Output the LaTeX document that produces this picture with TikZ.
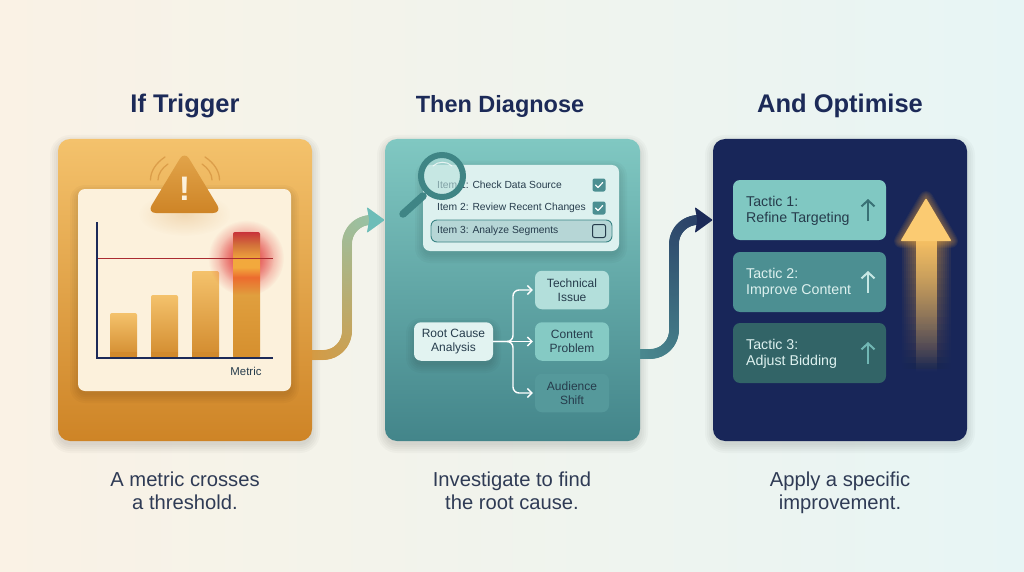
\documentclass[tikz,border=0pt]{standalone}
\usepackage{fontspec}
\setmainfont{Liberation Sans}
\usetikzlibrary{arrows.meta,fadings,decorations.markings,calc}
\definecolor{bgL}{HTML}{FAF2E5}\definecolor{bgR}{HTML}{E7F5F5}
\definecolor{navy}{HTML}{1C2A58}\definecolor{desc}{HTML}{2F3B55}
\definecolor{amberT}{HTML}{F4C26C}\definecolor{amberB}{HTML}{CE8426}
\definecolor{tealT}{HTML}{80C8C2}\definecolor{tealB}{HTML}{43858A}
\definecolor{panelA}{HTML}{FCF1DC}\definecolor{panelT}{HTML}{DDF1EF}
\definecolor{ink}{HTML}{263C4C}\definecolor{cardN}{HTML}{182659}
\definecolor{ringT}{HTML}{3F8585}
\definecolor{hotR}{HTML}{C8323A}\definecolor{hotM}{HTML}{D2703A}\definecolor{hotY}{HTML}{F2A93D}\definecolor{hotO}{HTML}{EC6B2E}\definecolor{hotA}{HTML}{E09F3E}\definecolor{hotB}{HTML}{D58F2E}
\definecolor{glow}{HTML}{F0A83C}\definecolor{glowL}{HTML}{FBCB72}
\pgfdeclareverticalshading{hotbar}{100bp}{color(0bp)=(hotB);color(25bp)=(hotB);color(50bp)=(hotA);color(57bp)=(hotO);color(61bp)=(hotY);color(64bp)=(hotY);color(70bp)=(hotM);color(75bp)=(hotR);color(100bp)=(hotR)}
\tikzfading[name=glowfade,inner color=transparent!0,outer color=transparent!100]
\tikzfading[name=upfade,top color=transparent!0,middle color=transparent!20,bottom color=transparent!100]
\newcommand\softshadow[5]{\foreach \s in {0,2,4,6,8}{\pgfmathsetmacro\rr{#5+\s}\fill[black,opacity=.022,rounded corners=\rr pt] (#1-\s,#2-\s+4) rectangle (#3+\s,#4+\s+4);}}
\tikzset{
 x=1pt,y=-1pt,
 card/.style={inner sep=0pt,rounded corners=12pt,minimum width=254pt,minimum height=302pt},
 panel/.style={inner sep=0pt,rounded corners=7pt},
 title/.style={font=\bfseries\fontsize{#1}{27}\selectfont,text=navy},
 caption/.style={font=\fontsize{20.2}{23}\selectfont,text=desc,align=center,anchor=north},
 item/.style={font=\fontsize{10.3}{13}\selectfont,text=ink,anchor=west,inner sep=0pt},
 cbox/.style={inner sep=0pt,minimum size=13pt,rounded corners=2pt},
 cause/.style={inner sep=0pt,rounded corners=7pt,minimum width=74pt,minimum height=38.5pt,font=\fontsize{12}{14}\selectfont,text=ink,align=center},
 tactic/.style={inner sep=0pt,rounded corners=7pt,minimum width=153pt,minimum height=60pt},
 tactictext/.style={font=\fontsize{14.2}{16}\selectfont,anchor=west,align=left,inner sep=0pt},
 branch/.style={draw=white,line width=1.4pt,rounded corners=6pt,-{Straight Barb[length=4.5pt,width=9pt]}},
 tup/.style={line width=2pt,-{Straight Barb[length=6pt,width=13pt]}},
 flow/.style n args={2}{decorate,decoration={markings,mark=between positions 0 and 1 step 1pt with {\pgfmathtruncatemacro\p{min(100,\pgfkeysvalueof{/pgf/decoration/mark info/sequence number}/1.85)}\fill[color=#2!\p!#1] (0,0) circle (5pt);}}}
}
\begin{document}
\begin{tikzpicture}
\useasboundingbox (0,0) rectangle (1024,572);
\shade[left color=bgL,right color=bgR] (0,0) rectangle (1024,572);
% titles
\node[title=25.5] (t1) at (185,106) {If Trigger};
\node[title=23.5] (t2) at (500,106) {Then Diagnose};
\node[title=25.5] (t3) at (840,106) {And Optimise};
\node[caption] (c1) at (185,468) {A metric crosses\\a threshold.};
\node[caption] (c2) at (512,468) {Investigate to find\\the root cause.};
\node[caption] (c3) at (840,468) {Apply a specific\\improvement.};
% shadows of the cards
\softshadow{58}{139}{312}{441}{12}
\softshadow{385}{139}{640}{441}{12}
\softshadow{713}{139}{967}{441}{12}
% connectors (beneath the cards)
\coordinate (a1s) at (300,355);\coordinate (a1e) at (371,220);
\coordinate (a2s) at (628,354);\coordinate (a2e) at (698,220);
\path[rounded corners=24pt,flow={amberB!70!amberT}{tealT!90!teal}] (a1s) -- (347,355) -- (347,220) -- (a1e);
\path[rounded corners=24pt,flow={tealB!85!tealT}{navy}] (a2s) -- (674,354) -- (674,220) -- (a2e);
% cards
\node[card,top color=amberT,bottom color=amberB] (card1) at (185,290) {};
\node[card,minimum width=255pt,top color=tealT,bottom color=tealB] (card2) at (512.5,290) {};
\node[card,fill=cardN] (card3) at (840,290) {};
% arrow heads of the connectors
\coordinate (h1) at (card2.west|-a1e);\coordinate (h2) at (card3.west|-a2e);
\fill[tealT!85!teal,rounded corners=1pt] (h1) -- ($(h1)+(-18,-13)$) -- ($(h1)+(-15.5,0)$) -- ($(h1)+(-18,13)$) -- cycle;
\fill[navy,rounded corners=1pt] (h2) -- ($(h2)+(-18,-13)$) -- ($(h2)+(-15.5,0)$) -- ($(h2)+(-18,13)$) -- cycle;
% ===== card 1
\softshadow{78}{189}{291}{391}{7}
\node[panel,fill=panelA,minimum width=213pt,minimum height=202pt] (chart) at (184.5,290) {};
\fill[amberB,opacity=.22,path fading=glowfade] (184.5,214) ellipse (46 and 22);
\draw[amberB!85!panelA,opacity=.75,line width=1.3pt,line cap=round] (150.5,180) .. controls (150.5,171) and (156,163) .. (165,157);
\draw[amberB!85!panelA,opacity=.75,line width=1.3pt,line cap=round] (158,180) .. controls (158,174) and (162,168) .. (168,164);
\draw[amberB!85!panelA,opacity=.75,line width=1.3pt,line cap=round] (219.5,180) .. controls (219.5,171) and (214,163) .. (205,157);
\draw[amberB!85!panelA,opacity=.75,line width=1.3pt,line cap=round] (212,180) .. controls (212,174) and (208,168) .. (202,164);
\shade[top color=amberT!55!amberB,bottom color=amberB,rounded corners=9pt] (184.5,151) -- (222,213) -- (147,213) -- cycle;
\node[font=\bfseries\fontsize{34}{34}\selectfont,text=panelA,inner sep=0pt] (bang) at (184.5,189) {!};
% bars
\foreach \xa/\top in {110/313,151/295,192/271}{
 \shade[top color=amberT,bottom color=amberB!90!amberT,rounded corners=2pt] (\xa,\top) rectangle (\xa+27,358);
 \fill[amberB!90!amberT] (\xa,352) rectangle (\xa+27,358);
}
\fill[hotR!60!red,opacity=.85,path fading=glowfade] (246,258) circle (38);
\fill[hotR!60!red,opacity=.5,path fading=glowfade] (246,258) circle (28);
\shade[shading=hotbar,rounded corners=2pt] (233,232) rectangle (260,358);
\draw[hotR!85!black,line width=1.4pt] (97,258.5) -- (273,258.5);
\draw[navy,line width=1.5pt] (97,222) -- (97,358) -- (273,358);
\node[font=\fontsize{11.4}{13}\selectfont,text=ink,inner sep=0pt] (metric) at (246,371) {Metric};
% ===== card 2 checklist
\softshadow{423}{165}{619}{251}{7}
\node[panel,fill=panelT,minimum width=196pt,minimum height=86pt] (list) at (521,208) {};
\node[inner sep=0pt,rounded corners=6pt,draw=ringT!90!teal,line width=.9pt,fill=tealB!25!panelT,minimum width=181pt,minimum height=22pt] (row3) at (521.5,231) {};
\node[item] (i1) at (437,185) {Item 1: Check Data Source};
\node[item] (i2) at (437,208) {Item 2: Review Recent Changes};
\node[item] (i3) at (437,231) {Item 3: Analyze Segments};
\foreach \n/\y in {b1/185,b2/208}{
 \node[cbox,fill=tealB!85!tealT] (\n) at (599,\y) {};
 \draw[white,line width=1.2pt,line cap=round,line join=round] (595.5,\y) -- (598,\y+2.5) -- (602.8,\y-2.5);
}
\node[cbox,draw=ink,line width=1pt] (b3) at (599,231) {};
% magnifier
\draw[ringT,line width=7.5pt,line cap=round] (423,196) -- (403,214);
\fill[tealT!55!white,opacity=.62] (442,176) circle (21);
\draw[ringT,line width=6pt] (442,176) circle (21);
\draw[white,opacity=.75,line width=1pt,line cap=round] (433,166) .. controls (438,161) and (447,161) .. (452,166);
% ===== card 2 root cause tree
\softshadow{414}{322}{493}{361}{7}
\node[cause,minimum width=79pt,fill=panelT!85!white] (root) at (453.5,341.5) {Root Cause\\Analysis};
\node[cause,fill=tealT!45!panelT] (k1) at (572,290) {Technical\\Issue};
\node[cause,fill=tealT!95!panelT] (k2) at (572,341.5) {Content\\Problem};
\node[cause,fill=tealB!70!tealT] (k3) at (572,393) {Audience\\Shift};
\coordinate (fork) at (513,341.5);
\draw[branch] (root.east) -- (fork) -- (fork|-k1.west) -- ([xshift=-2pt]k1.west);
\draw[branch] (root.east) -- ([xshift=-2pt]k2.west);
\draw[branch] (root.east) -- (fork) -- (fork|-k3.west) -- ([xshift=-2pt]k3.west);
% ===== card 3
\node[tactic,fill=tealT] (tac1) at (809.5,210) {};
\node[tactic,fill=tealB!85!tealT] (tac2) at (809.5,282) {};
\node[tactic,fill=tealB!75!black] (tac3) at (809.5,353) {};
\node[tactictext,text=ink] (tt1) at (746,211) {Tactic 1:\\Refine Targeting};
\node[tactictext,text=panelT] (tt2) at (746,283) {Tactic 2:\\Improve Content};
\node[tactictext,text=panelT] (tt3) at (746,354) {Tactic 3:\\Adjust Bidding};
\coordinate (u1b) at (868,221);\coordinate (u1t) at (868,199);
\coordinate (u2b) at (868,293);\coordinate (u2t) at (868,271);
\coordinate (u3b) at (868,364);\coordinate (u3t) at (868,342);
\draw[tup,color=tealB!85!black] (u1b) -- (u1t);
\draw[tup,color=panelT!75!tealT] (u2b) -- (u2t);
\draw[tup,color=tealT!75!tealB] (u3b) -- (u3t);
% glowing arrow
\foreach \w in {14,12,10,8,6,4,2}{
 \fill[glow,opacity=.08,path fading=upfade] (916-\w,241) rectangle (937+\w,372);
 \draw[glow,opacity=.07,line width=\w pt,line join=round] (926,198) -- (951,241) -- (901,241) -- cycle;
}
\fill[glowL!75!glow,path fading=upfade] (916,236) rectangle (937,372);
\fill[glowL,rounded corners=1pt] (926,198) -- (951.5,241) -- (900.5,241) -- cycle;
\end{tikzpicture}
\end{document}
